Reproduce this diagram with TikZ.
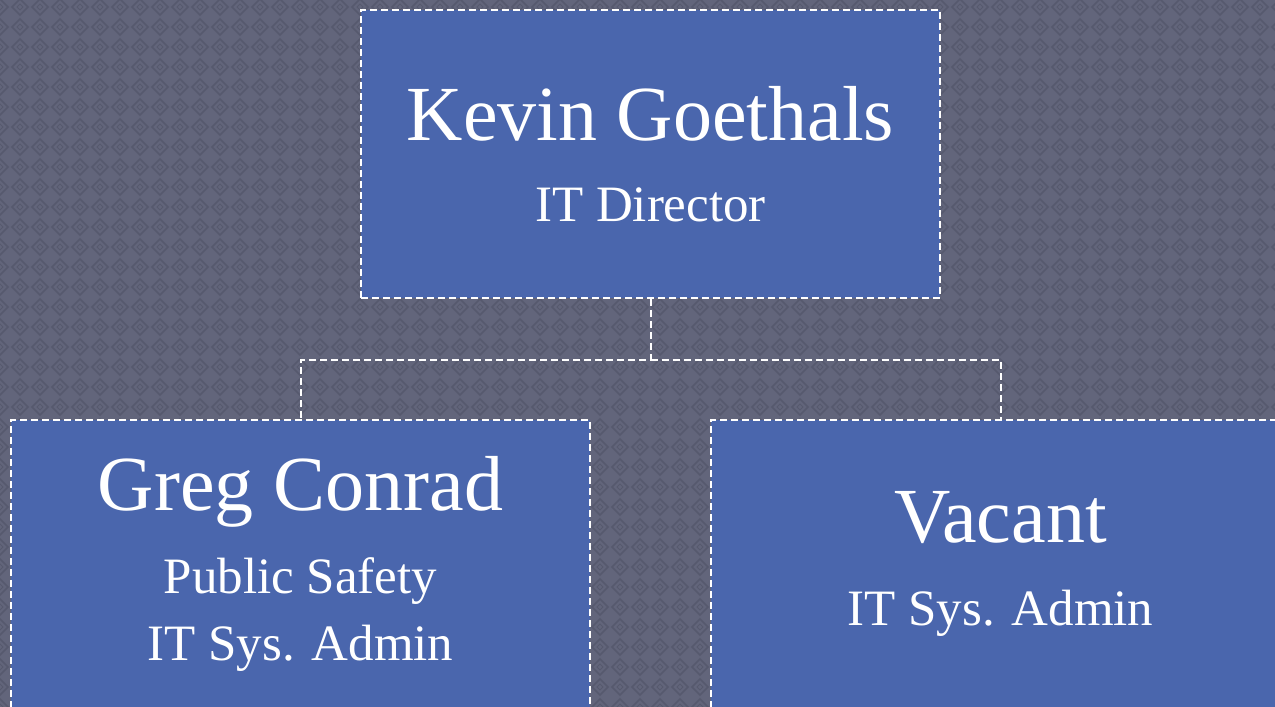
\documentclass[tikz,border=0pt]{standalone}
\usepackage{fontspec}
\setmainfont{Liberation Serif}
\usetikzlibrary{positioning}
\definecolor{slatebg}{HTML}{62657B}
\definecolor{slateweave}{HTML}{56596E}
\definecolor{boxblue}{HTML}{4A66AD}
\newcommand{\namefont}{\fontsize{78}{83}\selectfont}
\begin{document}
\begin{tikzpicture}[x=1pt, y=1pt,
  person/.style={draw=white, fill=boxblue, line width=2pt, dash pattern=on 7pt off 4pt,
    minimum width=579pt, minimum height=288pt, inner sep=0pt, text=white, align=center,
    font=\fontsize{51}{67}\selectfont},
  link/.style={draw=white, line width=2pt, dash pattern=on 7pt off 4pt}]
\useasboundingbox (0,0) rectangle (1275,707);
\clip (0,0) rectangle (1275,707);
% woven backdrop
\fill[slatebg] (0,0) rectangle (1275,707);
\foreach \i in {0,...,64}
  \foreach \j in {0,...,36} {
    \draw[slateweave, line width=1.5pt] (\i*20,\j*20+8) -- ++(8,-8) -- ++(-8,-8) -- ++(-8,8) -- cycle;
    \draw[slateweave, line width=1pt] (\i*20,\j*20+3) -- ++(3,-3) -- ++(-3,-3) -- ++(-3,3) -- cycle;
  }
% staff boxes
\node[person] (kevin) at (650.5,553) {{\namefont Kevin Goethals}\\[14pt] IT Director};
\node[person] (greg) at (300.5,143) {{\namefont Greg Conrad}\\[16pt] Public Safety\\ IT Sys. Admin};
\node[person] (vacant) at (1000.5,143) {{\namefont Vacant}\\[16pt] IT Sys. Admin};
% reporting lines
\draw[link] (kevin.south) -- ++(0,-61) coordinate (fork) -| (greg.north);
\draw[link] (fork) -| (vacant.north);
\end{tikzpicture}
\end{document}
